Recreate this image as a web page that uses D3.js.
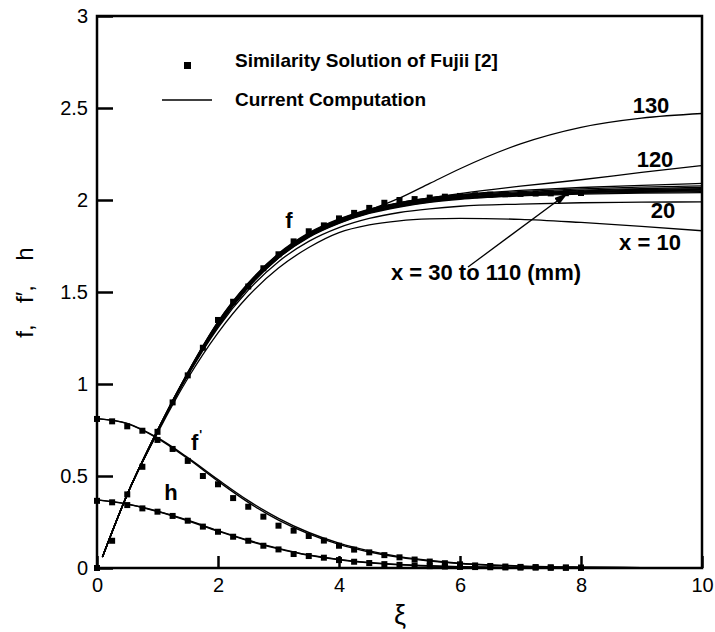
<!DOCTYPE html>
<html>
<head>
<meta charset="utf-8">
<script src="https://cdn.jsdelivr.net/npm/d3@7"></script>
<style>
  body { margin: 0; background: #fff; }
  svg { display: block; }
  text { font-family: "Liberation Sans", Arial, sans-serif; fill: #000; }
</style>
</head>
<body>
<svg id="chart" width="715" height="632"></svg>
<script>
// similarity solution of Fujii (markers), xi = 0 .. 8 step 0.25
const xiMark = [0,0.25,0.5,0.75,1,1.25,1.5,1.75,2,2.25,2.5,2.75,3,3.25,3.5,3.75,4,4.25,4.5,4.75,5,5.25,5.5,5.75,6,6.25,6.5,6.75,7,7.25,7.5,7.75,8];
const fMark  = [0,0.148,0.40,0.55,0.74,0.90,1.047,1.197,1.348,1.447,1.53,1.629,1.705,1.775,1.83,1.862,1.90,1.93,1.957,1.985,2.0,2.005,2.013,2.018,2.022,2.026,2.029,2.031,2.033,2.035,2.036,2.037,2.038];
const fpMark = [0.81,0.797,0.77,0.746,0.696,0.647,0.582,0.50,0.455,0.38,0.333,0.279,0.23,0.203,0.174,0.149,0.121,0.10,0.085,0.07,0.058,0.046,0.035,0.026,0.02,0.014,0.011,0.008,0.006,0.005,0.004,0.003,0.002];
const hMark  = [0.365,0.357,0.342,0.324,0.306,0.283,0.257,0.225,0.197,0.17,0.148,0.121,0.101,0.076,0.065,0.056,0.043,0.034,0.027,0.021,0.017,0.013,0.01,0.008,0.006,0.005,0.004,0.003,0.002,0.002,0.001,0.001,0.001];

// current computation, f for each station x (mm)
const xiF = [0.09,0.5,1,1.5,2,2.5,3,3.5,4,4.5,5,5.5,6,7,8,9,10];
const f10  = [0.06,0.40,0.733,1.03,1.278,1.478,1.63,1.742,1.823,1.865,1.887,1.897,1.90,1.895,1.878,1.857,1.833];
const f20  = [0.06,0.40,0.74,1.045,1.305,1.51,1.665,1.775,1.85,1.90,1.932,1.952,1.966,1.978,1.985,1.988,1.99];
const f30  = [0.06,0.40,0.742,1.05,1.315,1.525,1.685,1.797,1.873,1.927,1.962,1.987,2.004,2.022,2.032,2.037,2.040];
const f40  = [0.06,0.40,0.743,1.052,1.318,1.528,1.688,1.80,1.876,1.93,1.965,1.99,2.007,2.025,2.036,2.042,2.045];
const f50  = [0.06,0.40,0.744,1.054,1.321,1.531,1.691,1.803,1.879,1.933,1.968,1.993,2.01,2.028,2.04,2.046,2.05];
const f60  = [0.06,0.40,0.745,1.055,1.324,1.534,1.694,1.806,1.882,1.936,1.971,1.996,2.013,2.031,2.043,2.05,2.054];
const f70  = [0.06,0.40,0.746,1.057,1.327,1.537,1.697,1.809,1.885,1.939,1.974,1.999,2.016,2.034,2.046,2.053,2.058];
const f80  = [0.06,0.40,0.747,1.058,1.33,1.54,1.70,1.812,1.888,1.942,1.977,2.002,2.019,2.037,2.05,2.057,2.062];
const f90  = [0.06,0.40,0.748,1.06,1.333,1.543,1.703,1.815,1.891,1.945,1.98,2.005,2.022,2.04,2.054,2.062,2.068];
const f100 = [0.06,0.40,0.749,1.061,1.336,1.546,1.706,1.818,1.894,1.948,1.983,2.008,2.026,2.045,2.06,2.07,2.077];
const f110 = [0.06,0.40,0.75,1.063,1.339,1.549,1.709,1.821,1.897,1.951,1.986,2.012,2.03,2.052,2.068,2.08,2.09];
const f120 = [0.06,0.40,0.745,1.055,1.325,1.535,1.695,1.805,1.88,1.94,1.985,2.012,2.035,2.075,2.11,2.15,2.187];
const f130 = [0.06,0.40,0.74,1.05,1.315,1.525,1.685,1.80,1.88,1.945,2.01,2.09,2.17,2.305,2.395,2.445,2.47];

// current computation, f' and h
const xiP = [0,0.5,1,1.5,2,2.5,3,3.5,4,4.5,5,5.5,6,6.5,7,8,9,10];
const fpA = [0.812,0.785,0.705,0.595,0.472,0.357,0.26,0.185,0.128,0.087,0.058,0.038,0.024,0.015,0.009,0.004,0.002,0.001];
const fpB = [0.812,0.786,0.708,0.60,0.48,0.366,0.27,0.193,0.135,0.093,0.062,0.041,0.026,0.017,0.011,0.005,0.002,0.001];
const hA  = [0.37,0.347,0.307,0.257,0.20,0.148,0.104,0.069,0.045,0.028,0.017,0.01,0.006,0.004,0.002,0.001,0,0];
const hB  = [0.37,0.348,0.309,0.26,0.203,0.151,0.107,0.071,0.047,0.03,0.019,0.012,0.007,0.004,0.002,0.001,0,0];

const yTicks = [0,0.5,1,1.5,2,2.5,3];
const xTicks = [0,2,4,6,8,10];

const svg = d3.select("#chart");
const x = d3.scaleLinear().domain([0, 10]).range([97, 702]);
const y = d3.scaleLinear().domain([0, 3]).range([568, 16]);
const FONT = '"Liberation Sans", Arial, sans-serif';

svg.append("rect").attr("width", 715).attr("height", 632).attr("fill", "#fff");

// axes
svg.append("g")
    .attr("transform", "translate(97,0)")
    .call(d3.axisLeft(y).tickValues(yTicks).tickSize(-16).tickPadding(9).tickFormat(d => String(d)))
    .call(g => g.select(".domain").remove())
    .call(g => g.selectAll("line").attr("stroke", "#000").attr("stroke-width", 2.5))
    .call(g => g.selectAll("text").attr("font-size", 20).attr("font-family", FONT));

svg.append("g")
    .attr("transform", "translate(0,568)")
    .call(d3.axisBottom(x).tickValues(xTicks).tickSize(-12).tickPadding(10).tickFormat(d => String(d)))
    .call(g => g.select(".domain").remove())
    .call(g => g.selectAll("line").attr("stroke", "#000").attr("stroke-width", 2.5))
    .call(g => g.selectAll("text").attr("font-size", 20).attr("font-family", FONT));

// computed curves
const lineOf = grid => d3.line()
    .x((d, i) => x(grid[i]))
    .y(d => y(d))
    .curve(d3.curveMonotoneX);

const fSeries = [f10, f20, f30, f40, f50, f60, f70, f80, f90, f100, f110, f120, f130];
svg.append("g").selectAll("path")
    .data(fSeries)
    .join("path")
    .attr("d", lineOf(xiF))
    .attr("fill", "none")
    .attr("stroke", "#000")
    .attr("stroke-width", 1.3);

svg.append("g").selectAll("path")
    .data([fpA, fpB, hA, hB])
    .join("path")
    .attr("d", lineOf(xiP))
    .attr("fill", "none")
    .attr("stroke", "#000")
    .attr("stroke-width", 1.4);

// similarity markers
const ms = 6;
[fMark, fpMark, hMark].forEach(vals => {
    svg.append("g").selectAll("rect")
        .data(vals)
        .join("rect")
        .attr("x", (d, i) => x(xiMark[i]) - ms / 2)
        .attr("y", d => y(d) - ms / 2)
        .attr("width", ms)
        .attr("height", ms)
        .attr("fill", "#000");
});

// frame
svg.append("rect")
    .attr("x", x(0)).attr("y", y(3))
    .attr("width", x(10) - x(0)).attr("height", y(0) - y(3))
    .attr("fill", "none").attr("stroke", "#000").attr("stroke-width", 2.5);

// legend
svg.append("rect").attr("x", 184).attr("y", 62).attr("width", 7).attr("height", 7).attr("fill", "#000");
svg.append("line").attr("x1", 162).attr("x2", 212).attr("y1", 100).attr("y2", 100)
    .attr("stroke", "#000").attr("stroke-width", 1.3);
svg.append("text").attr("x", 235).attr("y", 67).attr("font-size", 19).attr("font-weight", "bold")
    .text("Similarity Solution of Fujii [2]");
svg.append("text").attr("x", 235).attr("y", 106).attr("font-size", 19).attr("font-weight", "bold")
    .text("Current Computation");

// curve annotations
const labels = [
    { t: "f", px: 289, py: 228 },
    { t: "h", px: 171, py: 500 },
    { t: "130", px: 651, py: 113 },
    { t: "120", px: 655, py: 167 },
    { t: "20", px: 663, py: 218 },
    { t: "x = 10", px: 650, py: 250 },
    { t: "x = 30 to 110 (mm)", px: 486, py: 280 }
];
svg.append("g").selectAll("text")
    .data(labels)
    .join("text")
    .attr("x", d => d.px).attr("y", d => d.py)
    .attr("text-anchor", "middle")
    .attr("font-size", 22)
    .attr("font-weight", "bold")
    .text(d => d.t);

const fp = svg.append("text").attr("x", 191).attr("y", 450).attr("font-size", 22).attr("font-weight", "bold");
fp.append("tspan").text("f");
fp.append("tspan").attr("dx", 1).attr("dy", -11).attr("font-size", 12).text("'");

// arrow
svg.append("defs").append("marker")
    .attr("id", "ah")
    .attr("viewBox", "0 0 14 8")
    .attr("refX", 14).attr("refY", 4)
    .attr("markerWidth", 14).attr("markerHeight", 8)
    .attr("markerUnits", "userSpaceOnUse")
    .attr("orient", "auto")
    .append("path").attr("d", "M0,0 L14,4 L0,8 Z").attr("fill", "#000");
svg.append("line")
    .attr("x1", 468).attr("y1", 267).attr("x2", 568).attr("y2", 193)
    .attr("stroke", "#000").attr("stroke-width", 1.3)
    .attr("marker-end", "url(#ah)");

// axis titles
const yParts = [{ t: "f,", cy: 331 }, { t: "f\u2032,", cy: 294 }, { t: "h", cy: 254 }];
svg.append("g").selectAll("text")
    .data(yParts)
    .join("text")
    .attr("transform", d => `translate(33,${d.cy}) rotate(-90)`)
    .attr("text-anchor", "middle")
    .attr("font-size", 24)
    .text(d => d.t);

svg.append("text").attr("x", 400).attr("y", 624).attr("text-anchor", "middle")
    .attr("font-size", 27).text("\u03be");
</script>
</body>
</html>
